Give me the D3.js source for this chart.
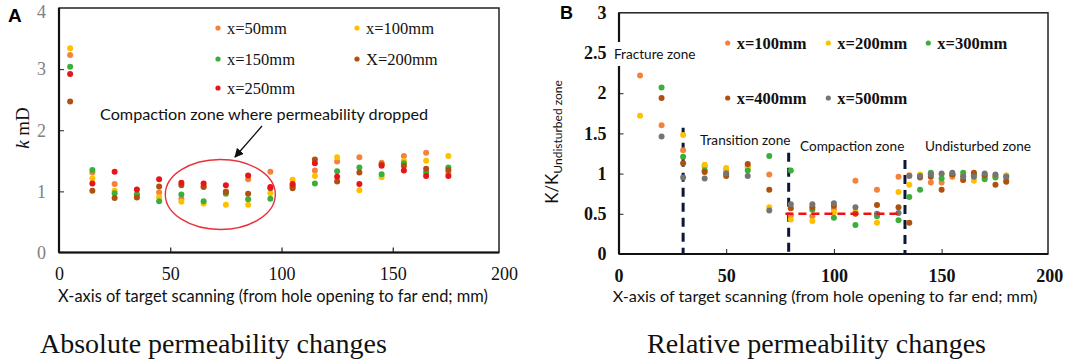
<!DOCTYPE html>
<html>
<head>
<meta charset="utf-8">
<script src="https://cdn.jsdelivr.net/npm/d3@7"></script>
<style>
  html, body { margin: 0; padding: 0; background: #fff; }
  svg { display: block; }
</style>
</head>
<body>
<div id="chart"></div>
<script>
// ---- panel A data: absolute permeability k (mD)
const xA = [5, 15, 25, 35, 45, 55, 65, 75, 85, 95, 105, 115, 125, 135, 145, 155, 165, 175];
const kX50  = [3.23, 1.31, 1.12, 0.95, 0.98, 0.88, 1.08, 1.00, 1.20, 1.32, 1.10, 1.34, 1.49, 1.56, 1.47, 1.58, 1.63, 1.30];
const kX100 = [3.34, 1.21, 1.01, 0.93, 0.91, 0.83, 0.80, 0.78, 0.78, 0.97, 1.19, 1.25, 1.56, 1.02, 1.23, 1.50, 1.50, 1.58];
const kX150 = [3.04, 1.35, 0.97, 0.95, 0.84, 0.95, 0.84, 0.96, 0.87, 0.88, 1.08, 1.13, 1.33, 1.39, 1.28, 1.46, 1.31, 1.39];
const kX200 = [2.47, 1.01, 0.89, 0.90, 1.08, 1.10, 1.07, 0.99, 0.96, 1.05, 1.05, 1.52, 1.16, 1.31, 1.44, 1.42, 1.37, 1.35];
const kX250 = [2.92, 1.13, 1.32, 1.03, 1.20, 1.14, 1.13, 1.10, 1.26, 1.07, 1.12, 1.46, 1.24, 1.12, 1.42, 1.34, 1.25, 1.25];
const seriesA = ["x=50mm", "x=100mm", "x=150mm", "X=200mm", "x=250mm"];
const xTicksA = [0, 50, 100, 150, 200];
const yTicksA = [0, 1, 2, 3, 4];

// ---- panel B data: relative permeability K/K undisturbed
const xB = [10, 20, 30, 40, 50, 60, 70, 80, 90, 100, 110, 120, 130, 135, 140, 145, 150, 155, 160, 165, 170, 175, 180];
const rX100 = [2.22, 1.60, 1.29, 1.09, 1.05, 1.09, 0.99, 0.48, 0.47, 0.56, 0.91, 0.80, 0.96, 0.98, 0.97, 0.89, 0.89, 0.96, 0.97, 0.99, 0.95, 0.97, 0.92];
const rX200 = [1.72, null, 1.48, 1.11, 1.07, 1.07, 0.58, 0.43, 0.41, 0.52, 0.53, 0.39, 0.77, 0.86, 0.99, 1.00, 0.99, 0.98, 0.92, 0.91, 0.97, 0.97, 0.98];
const rX300 = [null, 2.07, 1.21, 1.04, 1.00, 1.04, 1.22, 1.04, 0.55, 0.45, 0.36, 0.47, 0.42, 0.71, 0.80, 1.01, 0.94, 0.99, 1.01, 0.98, 0.93, 0.95, 0.96];
const rX400 = [null, 1.94, 1.13, 1.02, 0.97, 1.12, 0.80, 0.57, 0.58, 0.60, 0.50, 0.61, 0.58, 0.39, 0.95, 0.96, 0.80, 0.99, 0.92, 1.01, 0.98, 0.86, 0.90];
const rX500 = [null, 1.46, 0.95, 0.94, 1.00, 0.97, 0.54, 0.62, 0.62, 0.63, 0.58, 0.50, 0.51, 0.97, 0.97, 0.99, 1.00, 1.01, 0.96, 0.96, 1.00, 0.99, 0.96];
const seriesB = ["x=100mm", "x=200mm", "x=300mm", "x=400mm", "x=500mm"];
const xTicksB = [0, 50, 100, 150, 200];
const yTicksB = [0, 0.5, 1, 1.5, 2, 2.5, 3];
// zone boundaries (mm) and how high each dashed line reaches
const zoneBounds = [30, 79, 133];
const zoneTops = [1.57, 1.26, 1.17];
const compactionLevel = 0.5;
const compactionSpan = [77.5, 131.5];

const orange = "#f5823a", yellow = "#ffc000", green = "#3cae3c", brown = "#b0500f", red = "#e8141b", grey = "#757575";
const coloursA = [orange, yellow, green, brown, red];
const coloursB = [orange, yellow, green, brown, grey];

const serif = "'Liberation Serif', 'Times New Roman', serif";
const sans = "Lato, 'Open Sans', sans-serif";
const plain = d => String(d);

const svg = d3.select("#chart").append("svg").attr("width", 1065).attr("height", 364);

// ================= Panel A =================
const xa = d3.scaleLinear().domain([0, 200]).range([59, 504]);
const ya = d3.scaleLinear().domain([0, 4]).range([252.5, 8]);
svg.append("rect").attr("x", 59).attr("y", ya(4)).attr("width", 440).attr("height", ya(0) - ya(4))
  .attr("fill", "none").attr("stroke", "#222").attr("stroke-width", 1.5);

const gxa = svg.append("g").attr("transform", `translate(0,${ya(0)})`)
  .call(d3.axisBottom(xa).tickValues(xTicksA).tickFormat(plain).tickSizeInner(-5).tickSizeOuter(0).tickPadding(15));
gxa.select(".domain").remove();
gxa.selectAll(".tick line").attr("stroke", "#222").attr("stroke-width", 1.2).filter(d => d === 0 || d === 200).remove();
gxa.selectAll("text").attr("font-family", serif).attr("font-size", 18).attr("fill", "#111");

const gya = svg.append("g").attr("transform", `translate(${xa(0)},0)`)
  .call(d3.axisLeft(ya).tickValues(yTicksA).tickFormat(plain).tickSizeInner(-5).tickSizeOuter(0).tickPadding(13));
gya.select(".domain").remove();
gya.selectAll(".tick line").attr("stroke", "#222").filter(d => d === 0 || d === 4).remove();
gya.selectAll("text").attr("font-family", serif).attr("font-size", 18).attr("fill", "#808080")
  .attr("dy", d => d === 4 ? "0.5em" : "0.32em");

svg.append("line").attr("x1", xa(0)).attr("x2", xa(0)).attr("y1", ya(4)).attr("y2", ya(0)).attr("stroke", "#111").attr("stroke-width", 2.2);
svg.append("line").attr("x1", xa(0)).attr("x2", 499).attr("y1", ya(0)).attr("y2", ya(0)).attr("stroke", "#111").attr("stroke-width", 2.2);

[kX50, kX100, kX150, kX200, kX250].forEach((vals, i) => {
  svg.append("g").selectAll("circle").data(xA.map((x, j) => ({ x, v: vals[j] })).filter(d => d.v != null))
    .join("circle").attr("cx", d => xa(d.x)).attr("cy", d => ya(d.v)).attr("r", 3).attr("fill", coloursA[i]);
});

// legend A
const legA = [[218, 28], [357, 28], [218, 59], [357, 59], [218, 88]];
seriesA.forEach((name, i) => {
  const [lx, ly] = legA[i];
  svg.append("circle").attr("cx", lx).attr("cy", ly).attr("r", 2.6).attr("fill", coloursA[i]);
  svg.append("text").attr("x", lx + 9).attr("y", ly + 5.5).attr("font-family", serif).attr("font-size", 16.5).attr("fill", "#111").text(name);
});

// annotation
svg.append("text").attr("x", 100).attr("y", 120).attr("font-family", sans).attr("font-size", 16.2).attr("fill", "#111")
  .text("Compaction zone where permeability dropped");
svg.append("defs").append("marker").attr("id", "arr").attr("viewBox", "0 0 10 10").attr("refX", 9).attr("refY", 5)
  .attr("markerWidth", 7).attr("markerHeight", 7).attr("orient", "auto")
  .append("path").attr("d", "M0,0 L10,5 L0,10 z").attr("fill", "#111");
svg.append("line").attr("x1", 262).attr("y1", 126).attr("x2", 235).attr("y2", 157).attr("stroke", "#111").attr("stroke-width", 1.3).attr("marker-end", "url(#arr)");
svg.append("ellipse").attr("cx", xa(72.5)).attr("cy", ya(0.95)).attr("rx", 55).attr("ry", 35).attr("fill", "none").attr("stroke", "#e8323a").attr("stroke-width", 1.4);

// axis titles A
svg.append("text").attr("x", 273).attr("y", 302).attr("text-anchor", "middle").attr("font-family", sans).attr("font-size", 16.4).attr("fill", "#111")
  .text("X-axis of target scanning (from hole opening to far end; mm)");
const tA = svg.append("text").attr("transform", "translate(29,128) rotate(-90)").attr("text-anchor", "middle").attr("font-family", serif).attr("font-size", 19).attr("fill", "#111");
tA.append("tspan").attr("font-style", "italic").text("k");
tA.append("tspan").text("  mD");
svg.append("text").attr("x", 8).attr("y", 22).attr("font-family", "'Liberation Sans', Arial, sans-serif").attr("font-weight", "bold").attr("font-size", 19).text("A");
svg.append("text").attr("x", 40).attr("y", 353).attr("font-family", serif).attr("font-size", 28).attr("fill", "#111").text("Absolute permeability changes");

// ================= Panel B =================
const xb = d3.scaleLinear().domain([0, 200]).range([618.5, 1049.3]);
const yb = d3.scaleLinear().domain([0, 3]).range([254, 12.8]);
svg.append("rect").attr("x", 619).attr("y", yb(3)).attr("width", 1048 - 619).attr("height", yb(0) - yb(3))
  .attr("fill", "none").attr("stroke", "#222").attr("stroke-width", 1.5);

const gxb = svg.append("g").attr("transform", `translate(0,${yb(0)})`)
  .call(d3.axisBottom(xb).tickValues(xTicksB).tickFormat(plain).tickSizeInner(-5).tickSizeOuter(0).tickPadding(15));
gxb.select(".domain").remove();
gxb.selectAll(".tick line").attr("stroke", "#222").filter(d => d === 0 || d === 200).remove();
gxb.selectAll("text").attr("font-family", serif).attr("font-weight", "bold").attr("font-size", 18).attr("fill", "#111");

const gyb = svg.append("g").attr("transform", `translate(${xb(0)},0)`)
  .call(d3.axisLeft(yb).tickValues(yTicksB).tickFormat(plain).tickSizeInner(-5).tickSizeOuter(0).tickPadding(12));
gyb.select(".domain").remove();
gyb.selectAll(".tick line").attr("stroke", "#222").filter(d => d === 0 || d === 3).remove();
gyb.selectAll("text").attr("font-family", serif).attr("font-weight", "bold").attr("font-size", 18).attr("fill", "#111");

svg.append("line").attr("x1", 619).attr("x2", 619).attr("y1", yb(3)).attr("y2", yb(0)).attr("stroke", "#111").attr("stroke-width", 2.2);
svg.append("line").attr("x1", 619).attr("x2", 1048).attr("y1", yb(0)).attr("y2", yb(0)).attr("stroke", "#111").attr("stroke-width", 2.2);

// zone dividers
svg.append("g").selectAll("line").data(zoneBounds).join("line")
  .attr("x1", d => xb(d)).attr("x2", d => xb(d)).attr("y1", (d, i) => yb(zoneTops[i])).attr("y2", yb(0))
  .attr("stroke", "#0c1838").attr("stroke-width", 3).attr("stroke-dasharray", "9,6");

[rX100, rX200, rX300, rX400, rX500].forEach((vals, i) => {
  svg.append("g").selectAll("circle").data(xB.map((x, j) => ({ x, v: vals[j] })).filter(d => d.v != null))
    .join("circle").attr("cx", d => xb(d.x)).attr("cy", d => yb(d.v)).attr("r", 3).attr("fill", coloursB[i]);
});

svg.append("line").attr("x1", xb(compactionSpan[0])).attr("x2", xb(compactionSpan[1]))
  .attr("y1", yb(compactionLevel)).attr("y2", yb(compactionLevel))
  .attr("stroke", "#f01010").attr("stroke-width", 2.6).attr("stroke-dasharray", "8,5");

// zone labels
svg.append("rect").attr("x", 612).attr("y", 42).attr("width", 84).attr("height", 24).attr("fill", "#fff");
const zoneLabel = (x, y, t) => svg.append("text").attr("x", x).attr("y", y).attr("font-family", sans).attr("font-size", 13.6).attr("fill", "#111").text(t);
zoneLabel(614, 59, "Fracture zone");
zoneLabel(700, 145, "Transition zone");
zoneLabel(800, 151, "Compaction zone");
zoneLabel(925, 151, "Undisturbed zone");

// legend B
const legB = [[727.7, 43], [828.3, 43], [928.3, 43], [727.7, 98], [828.3, 98]];
seriesB.forEach((name, i) => {
  const [lx, ly] = legB[i];
  svg.append("circle").attr("cx", lx).attr("cy", ly).attr("r", 2.6).attr("fill", coloursB[i]);
  svg.append("text").attr("x", lx + 9).attr("y", ly + 5.5).attr("font-family", serif).attr("font-weight", "bold").attr("font-size", 16.5).attr("fill", "#111").text(name);
});

// axis titles B
svg.append("text").attr("x", 825).attr("y", 302).attr("text-anchor", "middle").attr("font-family", sans).attr("font-size", 16.2).attr("fill", "#111")
  .text("X-axis of target scanning (from hole opening to far end; mm)");
const tB = svg.append("text").attr("transform", "translate(558,142) rotate(-90)").attr("text-anchor", "middle").attr("font-family", sans).attr("fill", "#111");
tB.append("tspan").attr("font-size", 17).text("K/K");
tB.append("tspan").attr("font-size", 12).attr("dy", 4).text("Undisturbed zone");
svg.append("text").attr("x", 560).attr("y", 19).attr("font-family", "'Liberation Sans', Arial, sans-serif").attr("font-weight", "bold").attr("font-size", 18).text("B");
svg.append("text").attr("x", 647).attr("y", 353).attr("font-family", serif).attr("font-size", 28).attr("fill", "#111").text("Relative permeability changes");
</script>
</body>
</html>
